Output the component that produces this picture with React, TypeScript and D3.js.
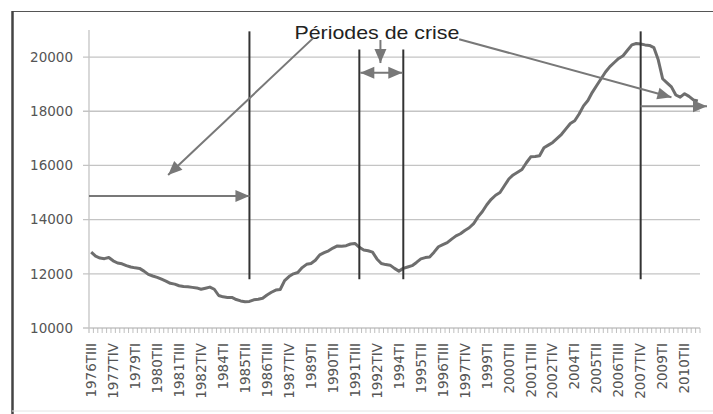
import React from 'react';
import * as d3 from 'd3';

// quarters 1976TIII .. 2011TI
const ROMAN = ['I', 'II', 'III', 'IV'];
const START_YEAR = 1976;
const START_Q = 2; // 0-based => TIII
const N_QUARTERS = 139;
const quarters: string[] = [];
for (let i = 0; i < N_QUARTERS; i++) {
  const q = START_Q + i;
  quarters.push(`${START_YEAR + Math.floor(q / 4)}T${ROMAN[q % 4]}`);
}

// valeurs
const values = [
  12800, 12650, 12580, 12560, 12600, 12480, 12400, 12370, 12300, 12250,
  12220, 12200, 12100, 11980, 11920, 11870, 11800, 11730, 11650, 11620,
  11560, 11530, 11520, 11500, 11480, 11430, 11470, 11510, 11430, 11200,
  11150, 11130, 11130, 11050, 11000, 10970, 10980, 11040, 11060, 11100,
  11220, 11320, 11400, 11420, 11750, 11900, 12000, 12050, 12230, 12350,
  12380, 12500, 12700, 12780, 12850, 12950, 13030, 13020, 13040, 13100,
  13120, 12980, 12880, 12850, 12800, 12550, 12380, 12340, 12320, 12200,
  12100, 12200, 12250, 12300, 12420, 12550, 12600, 12620, 12800, 13000,
  13080, 13150, 13280, 13400, 13480, 13600, 13700, 13850, 14100, 14300,
  14550, 14750, 14900, 15000, 15250, 15500, 15650, 15750, 15850, 16100,
  16320, 16330, 16360, 16650, 16750, 16850, 17000, 17150, 17350, 17550,
  17650, 17900, 18200, 18400, 18700, 18950, 19200, 19450, 19650, 19800,
  19950, 20050, 20250, 20450, 20500, 20480, 20450, 20430, 20350, 19900,
  19200, 19050, 18900, 18600, 18520, 18650, 18550, 18420, 18380,
];

const yTicks = [10000, 12000, 14000, 16000, 18000, 20000];

// périodes de crise : [trimestre, valeur haute, valeur basse]
const crisisLines: [string, number, number][] = [
  ['1985TIII', 20950, 11800],
  ['1991TIV', 20280, 11800],
  ['1994TII', 20280, 11800],
  ['2007TIV', 20950, 11800],
];

const W = 713;
const H = 414;
const margin = { left: 89, right: 13, top: 30, bottom: 86 };

const App: React.FC = () => {
  const x = d3.scaleBand<string>()
    .domain(quarters)
    .range([margin.left, W - margin.right])
    .padding(0);
  const bw = x.bandwidth();
  const cx = (q: string) => (x(q) ?? 0) + bw / 2;
  const y = d3.scaleLinear().domain([10000, 21000]).range([H - margin.bottom, margin.top]);
  const xi = (i: number) => margin.left + (i + 0.5) * bw;

  const line = d3.line<number>()
    .x((_, i) => cx(quarters[i]))
    .y(d => y(d));

  const gridColor = '#c4c4c4';
  const textColor = '#555';
  const arrowColor = '#787878';
  const tickFont = '13.5px "DejaVu Sans", sans-serif';

  const arrowHead = (x1: number, y1: number, x2: number, y2: number, len = 14, half = 6) => {
    const a = Math.atan2(y2 - y1, x2 - x1);
    const bx = x2 - len * Math.cos(a);
    const by = y2 - len * Math.sin(a);
    const px = -Math.sin(a) * half;
    const py = Math.cos(a) * half;
    return `M${x2},${y2}L${bx + px},${by + py}L${bx - px},${by - py}Z`;
  };

  const arrow = (x1: number, y1: number, x2: number, y2: number, key: string, both = false) => (
    <g key={key}>
      <line x1={x1} y1={y1} x2={x2} y2={y2} stroke={arrowColor} strokeWidth={2} />
      <path d={arrowHead(x1, y1, x2, y2)} fill={arrowColor} />
      {both && <path d={arrowHead(x2, y2, x1, y1)} fill={arrowColor} />}
    </g>
  );

  const c1 = cx(crisisLines[0][0]);
  const c2 = cx(crisisLines[1][0]);
  const c3 = cx(crisisLines[2][0]);
  const c4 = cx(crisisLines[3][0]);

  return (
    <svg width={W} height={H} style={{ position: 'absolute', left: 0, top: 0, background: '#fff' }}>
      {/* cadre */}
      <line x1={12} x2={W} y1={11.5} y2={11.5} stroke="#555" strokeWidth={1.2} />
      <line x1={12.5} x2={12.5} y1={11} y2={H} stroke="#444" strokeWidth={2.5} />
      <line x1={12} x2={W} y1={411} y2={411} stroke="#e4e4e4" strokeWidth={1} />

      {/* grille + axe Y */}
      {yTicks.map(t => (
        <g key={t}>
          <line x1={margin.left - 6} x2={W - margin.right} y1={y(t)} y2={y(t)} stroke={gridColor} strokeWidth={1.3} />
          <text x={73} y={y(t)} dy="0.35em" textAnchor="end" fill={textColor}
            style={{ font: tickFont }}>{t}</text>
        </g>
      ))}
      <line x1={margin.left} x2={margin.left} y1={margin.top} y2={y(10000) + 5} stroke={gridColor} strokeWidth={1.3} />

      {/* axe X */}
      {quarters.map(q => (
        <line key={q} x1={(x(q) ?? 0) + bw} x2={(x(q) ?? 0) + bw} y1={y(10000)} y2={y(10000) + 5}
          stroke="#b0b0b0" strokeWidth={0.8} />
      ))}
      {quarters.map((q, i) => i % 5 === 0 && (
        <text key={q} transform={`translate(${cx(q)},${y(10000) + 15}) rotate(-90)`}
          textAnchor="end" dy="0.35em" fill={textColor}
          style={{ font: tickFont }}>{q}</text>
      ))}

      {/* série */}
      <path d={line(values) ?? ''} fill="none" stroke="#6e6e6e" strokeWidth={3} strokeLinejoin="round" />

      {/* lignes de crise */}
      {crisisLines.map(([q, top, bottom]) => (
        <line key={q} x1={cx(q)} x2={cx(q)} y1={y(top)} y2={y(bottom)} stroke="#333" strokeWidth={2} />
      ))}

      {/* annotations */}
      <text x={xi(65)} y={y(20670)} textAnchor="middle" fill="#222" textLength={165} lengthAdjust="spacingAndGlyphs"
        style={{ font: '19px "Liberation Sans", Arial, sans-serif' }}>Périodes de crise</text>
      {arrow(xi(50.5), y(20700), xi(17.5), y(15650), 'a1')}
      {arrow(xi(83.7), y(20660), xi(132), y(18520), 'a2')}
      {arrow(xi(65.8), y(20630), xi(65.8), y(19780), 'a3')}
      {arrow(c2 + 1, y(19420), c3 - 1, y(19420), 'a4', true)}
      {arrow(margin.left, y(14870), c1, y(14870), 'a5')}
      {arrow(c4, y(18190), W - 6, y(18190), 'a6')}
    </svg>
  );
};

export default App;
